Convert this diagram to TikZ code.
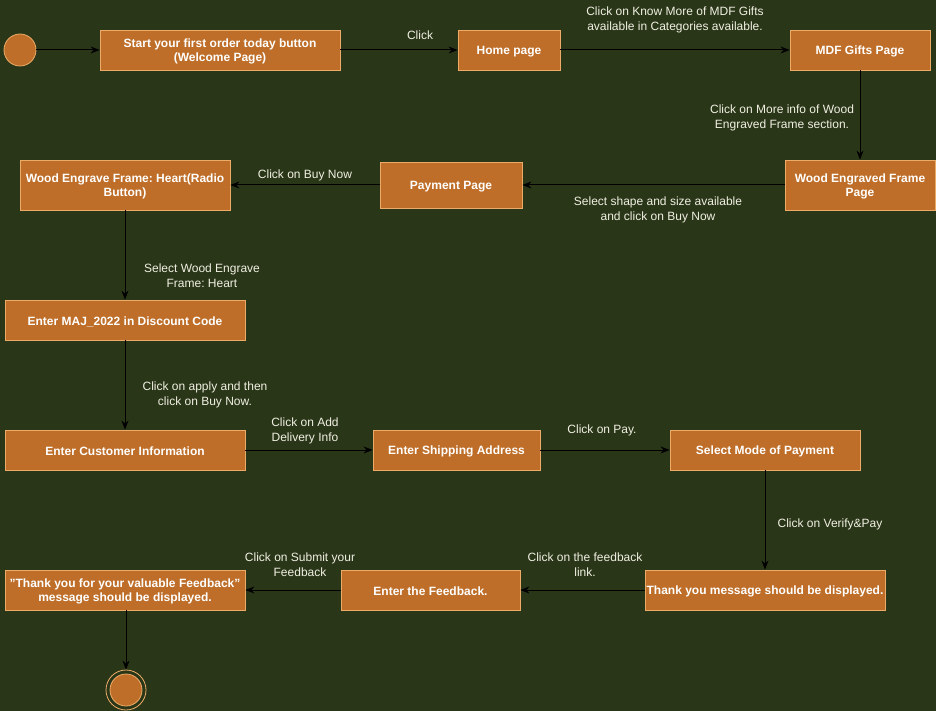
\documentclass[tikz,border=0pt]{standalone}
\usepackage{fontspec}
\setmainfont{Liberation Sans}
\usetikzlibrary{arrows.meta}
\frenchspacing
\definecolor{bgc}{RGB}{42,54,24}
\definecolor{boxf}{RGB}{190,110,40}
\definecolor{boxd}{RGB}{236,172,104}
\definecolor{lblc}{RGB}{240,240,226}
\newcommand\mybx[6]{%
  \node[box,minimum width=#4pt,minimum height=#5pt] (#1) at (#2,#3) {};
  \node[boxtxt] (#1t) at ([yshift=-1.5pt]#1.center) {#6};}
\begin{document}
\begin{tikzpicture}[x=1pt,y=-1pt,
  box/.style={draw=boxd,fill=boxf,line width=0.8pt,inner sep=0pt},
  boxtxt/.style={text=white,font=\frenchspacing\bfseries\fontsize{12}{14.5}\selectfont,align=center,inner sep=0pt},
  lbl/.style={text=lblc,font=\frenchspacing\fontsize{12}{15}\selectfont,align=center,inner sep=0pt},
  arr/.style={draw=black,line width=1pt,-{Stealth[length=9pt,width=7pt]}},
  stc/.style={circle,draw=boxd,fill=boxf,line width=0.8pt,inner sep=0pt}]
\fill[bgc] (0,0) rectangle (936,711);
\useasboundingbox (0,0) rectangle (936,711);
% nodes
\node[stc,minimum size=32pt] (start) at (20,50) {};
\mybx{welcome}{220}{50}{240}{40}{Start your first order today button\\(Welcome Page)}
\mybx{home}{509}{50}{102}{40}{Home page}
\mybx{mdf}{860}{50}{140}{40}{MDF Gifts Page}
\mybx{wefp}{860}{185}{150}{50}{Wood Engraved Frame\\Page}
\mybx{pay}{451}{185}{142}{46}{Payment Page}
\mybx{heart}{125}{185}{210}{50}{Wood Engrave Frame: Heart(Radio\\Button)}
\mybx{disc}{125}{320}{240}{40}{Enter MAJ\_2022 in Discount Code}
\mybx{cust}{125}{450}{240}{40}{Enter Customer Information}
\mybx{ship}{456.5}{450}{167}{40}{Enter Shipping Address}
\mybx{mode}{765}{450}{190}{40}{Select Mode of Payment}
\mybx{thank}{765}{590}{240}{40}{Thank you message should be displayed.}
\mybx{fb}{430.5}{590}{179}{40}{Enter the Feedback.}
\mybx{ty}{125}{590}{240}{40}{\symbol{34}Thank you for your valuable Feedback\symbol{34}\\message should be displayed.}
\node[stc,minimum size=40pt,fill=none] (endo) at (126,690) {};
\node[stc,minimum size=32pt] (endi) at (126,690) {};
% labels
\node[lbl] (l1) at (420,35) {Click};
\node[lbl] (l2) at (675,20) {Click on Know More of MDF Gifts\\available in Categories available.};
\node[lbl] (l3) at (782,118) {Click on More info of Wood\\Engraved Frame section.};
\node[lbl] (l4) at (658,210) {Select shape and size available\\and click on Buy Now};
\node[lbl] (l5) at (305,175) {Click on Buy Now};
\node[lbl] (l6) at (202,276) {Select Wood Engrave\\Frame: Heart};
\node[lbl] (l7) at (205,395) {Click on apply and then\\click on Buy Now.};
\node[lbl] (l8) at (305,431) {Click on Add\\Delivery Info};
\node[lbl] (l9) at (602,430) {Click on Pay.};
\node[lbl] (l10) at (830,524) {Click on Verify\&Pay};
\node[lbl] (l11) at (585,565) {Click on the feedback\\link.};
\node[lbl] (l12) at (300,565) {Click on Submit your\\Feedback};
% connectors
\draw[arr] (start) -- (welcome);
\draw[arr] (welcome) -- (home);
\draw[arr] (home) -- (mdf);
\draw[arr] (mdf) -- (wefp);
\draw[arr] (wefp) -- (pay);
\draw[arr] (pay) -- (heart);
\draw[arr] (heart) -- (disc);
\draw[arr] (disc) -- (cust);
\draw[arr] (cust) -- (ship);
\draw[arr] (ship) -- (mode);
\draw[arr] (mode) -- (thank);
\draw[arr] (thank) -- (fb);
\draw[arr] (fb) -- (ty);
\draw[arr] (ty.south -| endo) -- (endo);
\end{tikzpicture}
\end{document}
